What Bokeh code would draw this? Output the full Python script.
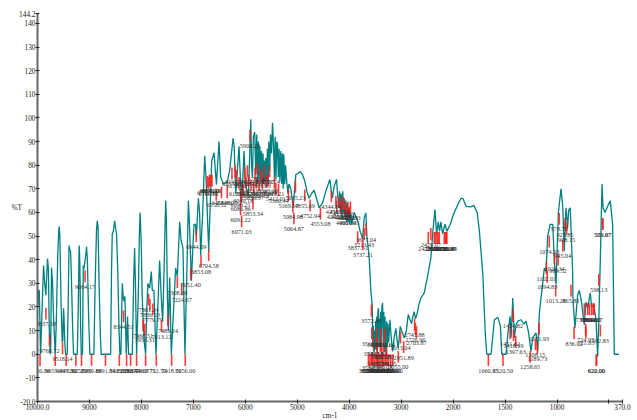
from bokeh.plotting import figure
from bokeh.models import FixedTicker, ColumnDataSource, Range1d
from bokeh.core.properties import value
from bokeh.embed import file_html
from bokeh.resources import INLINE

wavenumber = [9995,9975,9965,9942,9925,9884,9860,9840,9825,9807,9790,9775,9769,9755,9745,9730,9710,9690,9659,9640,9610,9590,9582,9570,9545,9524,9512,9505,9499,9490,9475,9460,9428,9410,9395,9389,9378,9364,9350,9325,9306,9235,9215,9200,9196,9185,9170,9158,9133,9125,9119,9108,9089,9070,9056,9040,9015,8992,8915,8890,8865,8850,8835,8815,8790,8773,8593,8575,8561,8540,8516,8495,8478,8455,8430,8414,8395,8368,8350,8337,8318,8291,8266,8247,8175,8150,8131,8115,8092,8060,8040,8025,8005,7985,7968,7945,7919,7895,7875,7842,7809,7790,7759,7720,7649,7620,7591,7570,7533,7520,7500,7481,7456,7424,7341,7308,7264,7235,7200,7180,7162,7130,7096,7075,7038,7010,6988,6960,6942,6903,6880,6859,6820,6782,6757,6705,6647,6602,6556,6506,6474,6422,6377,6345,6300,6236,6215,6184,6121,6090,6069,6024,5998,5975,5940,5895,5880,5863,5845,5819,5800,5780,5765,5750,5735,5720,5703,5690,5675,5660,5645,5630,5615,5606,5590,5575,5560,5549,5530,5515,5495,5477,5460,5440,5425,5410,5395,5381,5365,5350,5335,5317,5300,5285,5270,5260,5240,5225,5202,5180,5160,5125,5100,5080,5028,4985,4946,4900,4855,4815,4772,4725,4676,4630,4579,4545,4514,4450,4373,4350,4325,4290,4244,4225,4200,4185,4170,4155,4140,4125,4110,4095,4080,4065,4050,4035,4020,4007,3990,3975,3949,3905,3872,3830,3790,3743,3712,3679,3660,3616,3583,3558,3545,3535,3525,3519,3510,3500,3490,3480,3470,3458,3448,3436,3425,3415,3405,3395,3385,3372,3358,3345,3335,3322,3312,3302,3294,3280,3268,3255,3240,3217,3195,3166,3135,3102,3080,3057,3018,2990,2941,2900,2864,2835,2800,2775,2749,2725,2697,2660,2620,2556,2492,2428,2395,2350,2318,2286,2261,2235,2203,2158,2120,2055,1998,1955,1923,1907,1875,1827,1801,1769,1747,1714,1692,1676,1660,1635,1603,1570,1545,1532,1490,1474,1452,1442,1426,1411,1394,1378,1346,1320,1298,1276,1250,1234,1202,1186,1170,1147,1122,1106,1090,1067,1041,1026,1010,987,962,945,930,914,898,888,873,850,847,828,802,786,763,738,722,705,680,667,648,625,609,599,584,567,557,538,513,488,465,449,405]
transmittance = [20,27,27,0,10,37.5,30,25,32,40.5,36,12,8,0,5,36.7,30,15,0,12,42,53,54,50,20,5,6,14,19.5,16,5,0,0,20,44,46,44,43.5,35,12,0,0,20,44,46,38,12,0,0,25,37.5,36,39,42,45.5,40,15,0,0,30,52,56.5,54,30,8,0,0,35,51,52,56.5,53,51,35,10,0,0,30,24,22.5,24.5,0,16,0,0,30,45,30,0,25,50,60,48,25,14.7,5,0,20,30,28,35,27,27,0,39.7,25,14,30,65,58,25,10,32.5,0,36.5,33,56,48,45,20,0,30,65,55,31,45,55,55,50,66,60,42,60,84,75,44,81.8,85.3,71.9,90,75,72,72.6,73,78,91.4,88,67.7,88,72,65,86,73,70,67,99.4,80,75,92,94,76,93,72,90,74,88,73,86,73,85,72,82,73,83,74,87,72,90,78,93,85,98,90,75,92,74,90,89,75,87,73,86,72,85,70,84.6,72,80,73,68,72,70,66,62,76,76.5,77.3,76,73.3,69,66,68,69.4,66,62,63,64,69,74,70,66,71,74,68,62,69,60,68,58,69,60,66,58,65,56,64,56,62,55,60,55,60,58.4,56,52,49,57.7,59.8,50,41,26.6,21,3,12,1,1.2,10,2,14,2,16,1,18,19.5,3,15,4,18,2,20,21.7,4,18,1,16,2,1,14,3,13,5,14.6,8,1.2,7,11,6,2.6,11.8,10,6.9,10,16.8,15,13,16,18,15,16.8,21,23.8,26,33,40.8,50.6,61.2,51,56,52,56,51,55,52,55,59,63.4,66,66,62.6,62.4,63,60,52,33.7,9.7,0,0,0,14.6,15.6,12,0,0,8.3,16,7,23.8,7,12.5,14,14.6,12.8,14,9.7,1.2,7,9,1.2,17.5,26.6,36.5,35,50,54.9,54.9,39.3,29.5,60,70,62.6,43.6,62,53.5,61,62,35,23.8,11,25,27,21.7,12.5,22,19.5,26,20,21,14.6,-1,12.5,39,72,62,60,62.6,65,55,0,0]

peak_labels = ["9950.86","9659.00","9447.32","9262.15","9152.86","8959.88","8691.50","8425.33","8285.17","8208.44","8092.60","7919.75","7712.50","7418.00","7156.00","9518.14","9768.72","9837.58","9084.17","8344.51","7968.51","7936.31","7861.24","7836.53","7779.79","7613.12","7489.24","7308.68","7224.67","7051.40","6853.08","6944.09","6704.58","6731.89","6706.62","6688.02","6672.14","6640.21","6558.52","6458.66","6348.07","6257.12","6194.54","6170.42","6120.44","6090.21","6086.86","6091.22","6071.03","6040.18","6012.77","5985.30","5960.44","5940.91","5908.23","5890.12","5853.34","5838.37","5812.65","5790.08","5762.41","5735.19","5701.83","5670.26","5640.57","5596.38","5563.20","5530.74","5440.21","5412.01","5360.44","5169.57","5035.23","5084.98","5064.87","4855.69","4752.94","4553.08","4344.84","4256.21","4241.10","4185.33","4155.27","4118.62","4082.71","4060.14","4025.99","4001.05","3976.53","3837.51","3737.21","3713.43","3677.04","3572.85","3566.12","3470.22","3390.71","3310.64","3530.09","3465.38","3400.57","3335.80","3465.17","3372.41","3280.25","3560.33","3450.91","3360.48","3630.00","3600.00","3570.00","3540.00","3510.00","3480.00","3450.00","3420.00","3390.00","3360.00","3330.00","3300.00","3270.00","3240.00","3200.00","3160.00","3055.00","2951.89","3013.04","2741.88","2726.96","2703.87","2429.07","2478.11","2363.40","2340.15","2310.72","2290.33","2267.09","2170.61","2150.28","2135.47","2120.84","1660.85","1520.50","1424.82","1451.62","1418.99","1397.63","1258.65","1208.15","1189.73","1171.93","1094.83","1102.01","1013.28","1074.53","945.04","1024.34","989.52","978.70","923.85","908.15","865.81","836.02","724.95","721.85","582.83","737.21","705.44","688.96","668.02","652.11","641.37","622.00","620.00","598.13","561.07","559.67"]
peak_t = [0,0,0,0,0,0,0,0,0,0,0,0,0,0,0,5,8.4,19.7,35.5,18.5,14.7,13,25.6,23.5,21.5,14.3,17,33,30,36.5,42,52.5,44.5,75.4,75,76,76,76,70,71,71,79,80,78,75,70,68.3,63.8,58.7,72,79,75,80,76,95,74,66.3,73,79,75,81,74,78,75,80,75.6,76,80,75,72.5,72,69.7,73.3,65,60,69.7,65.5,62,69.3,67,65,67,65,66.5,64.5,62.5,64.5,62.5,64.5,52,49.2,53.4,55.2,21,11.3,11,11,11,7,7,6,6,3,3,3,1,1,1,0,0,0,0,0,0,0,0,0,0,0,0,0,0,0,0,1.4,5.5,9.6,15,13.2,11.8,53.4,51.7,51.7,51.7,51.7,51.7,51.7,51.7,51.7,51.7,51.7,0,0,18.8,11.5,10.6,7.8,1.4,6.8,5.1,13.3,35.3,39,29.4,50.2,48.5,43.2,42.4,59.8,57.6,55.5,29.4,11.5,12.9,11.8,12.5,21.6,21.6,21.6,21.6,21.6,21.6,0,0,34,57.6,57.6]

x_ticks = [10000,9000,8000,7000,6000,5000,4000,3000,2000,1500,1000,500,370]
x_tick_labels = ["10000.0","9000","8000","7000","6000","5000","4000","3000","2000","1500","1000","","370.0"]
y_ticks = [144.2,140,130,120,110,100,90,80,70,60,50,40,30,20,10,0,-10,-20]
y_tick_labels = ["144.2","140","130","120","110","100","90","80","70","60","50","40","30","20","10","0","-10","-20.0"]


def warp(wn):
    # the instrument's abscissa doubles its scale below 2000 cm-1
    return 10000 - wn if wn >= 2000 else 8000 + (2000 - wn) * 2


TEAL = "#008080"
RED = "#ff1a1a"
SERIF = "Liberation Serif"

p = figure(width=637, height=420, output_backend="svg", toolbar_location=None,
           x_range=Range1d(0, warp(370)), y_range=Range1d(-20, 144.2),
           frame_width=585, frame_height=388,
           min_border_left=37, min_border_right=15, min_border_top=13, min_border_bottom=19,
           outline_line_color=None, margin=(0, 0, 0, 0))
p.grid.visible = False

p.xaxis.ticker = FixedTicker(ticks=[warp(v) for v in x_ticks])
p.xaxis.major_label_overrides = {warp(v): s for v, s in zip(x_ticks, x_tick_labels)}
p.yaxis.ticker = FixedTicker(ticks=y_ticks)
p.yaxis.major_label_overrides = dict(zip(y_ticks, y_tick_labels))
for ax in (p.xaxis[0], p.yaxis[0]):
    ax.axis_line_color = "#666666"
    ax.axis_line_width = 2
    ax.major_tick_line_color = "#222222"
    ax.major_tick_in = 2
    ax.major_tick_out = 2
    ax.minor_tick_line_color = None
    ax.major_label_text_font = SERIF
    ax.major_label_text_font_size = "7.3px"
    ax.major_label_text_color = "#222222"
    ax.major_label_standoff = 0
    ax.axis_label_text_font = SERIF
    ax.axis_label_text_font_size = "7.3px"
    ax.axis_label_text_font_style = "normal"
    ax.axis_label_text_color = "#222222"
p.xaxis.axis_label = "cm-1"
p.xaxis.axis_label_standoff = -2
p.yaxis.axis_label = "%T"
p.yaxis.axis_label_standoff = -6
p.yaxis.major_label_orientation = "horizontal"
p.yaxis[0].axis_label_orientation = "horizontal"

p.line([warp(v) for v in wavenumber], transmittance, line_color=TEAL, line_width=1.3)

px = [warp(float(s)) for s in peak_labels]
p.segment(px, peak_t, px, [t - 5 for t in peak_t], line_color=RED, line_width=1.6, line_alpha=0.85)
src = ColumnDataSource(dict(x=px, y=[t - 7 for t in peak_t], text=peak_labels))
p.text("x", "y", text="text", source=src, text_font=value(SERIF), text_font_size=value("6.2px"),
       text_align="center", text_baseline="middle", text_color="#333333")

open("out.html", "w").write(file_html(p, INLINE))
